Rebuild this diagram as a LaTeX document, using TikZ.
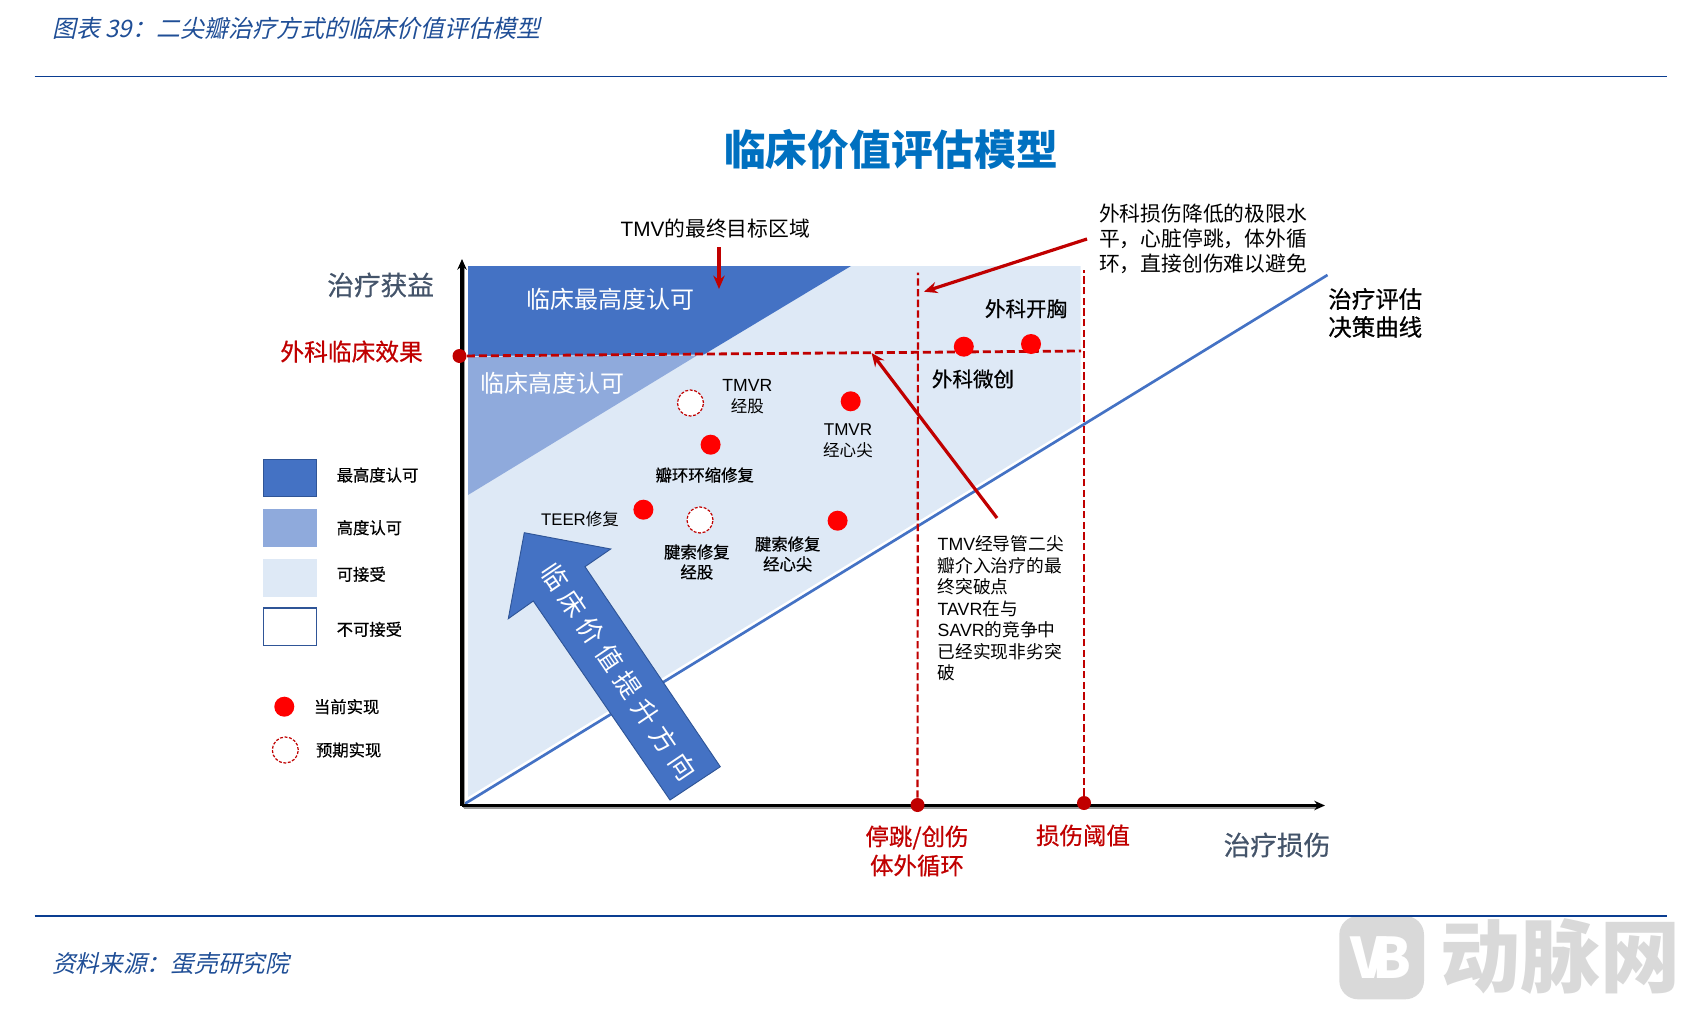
\documentclass[tikz,border=0pt]{standalone}
\usepackage{fontspec}
\usetikzlibrary{arrows.meta}
\setmainfont{Noto Sans CJK SC}
\newfontfamily\slantcjk[FakeSlant=0.22]{Noto Sans CJK SC}
\newfontfamily\heavycjk[FakeBold=0.6]{Noto Sans CJK SC}
\newfontfamily\lat{Liberation Sans}
\newcommand\fsz[2]{\fontsize{#1}{#2}\selectfont}
\definecolor{ruleblue}{HTML}{0A3D91}
\definecolor{capblue}{HTML}{1F4E96}
\definecolor{titleblue}{HTML}{0070C0}
\definecolor{dk}{HTML}{4472C4}
\definecolor{dkedge}{HTML}{2F5597}
\definecolor{md}{HTML}{8FAADC}
\definecolor{lt}{HTML}{DEE9F6}
\definecolor{redline}{HTML}{C00000}
\definecolor{slateax}{HTML}{44546A}
\definecolor{wm}{HTML}{D9D9D9}
\tikzset{
  lbl/.style={inner sep=0pt,outer sep=0pt,align=center},
  lbll/.style={inner sep=0pt,outer sep=0pt,align=left,anchor=west},
  ptdot/.style={circle,fill=red,draw=none,minimum size=15pt,inner sep=0pt},
  hollowdot/.style={circle,fill=white,draw=redline,dash pattern=on 2.2pt off 1.2pt,line width=0.9pt,minimum size=19.5pt,inner sep=0pt},
  keydot/.style={circle,fill=redline,draw=none,minimum size=10.5pt,inner sep=0pt},
  reddash/.style={draw=redline,line width=2.1pt,dash pattern=on 6pt off 3pt},
  reddashv/.style={draw=redline,line width=1.6pt,dash pattern=on 5.5pt off 2.5pt},
  redarrow/.style={draw=redline,line width=2.4pt,-{Stealth[length=10pt,width=8.5pt]}},
  axisline/.style={draw=black,line width=2.5pt,-{Stealth[length=8pt,width=7pt]}},
  axisshade/.style={draw=black!40,line width=2pt},
  legendbox/.style={minimum width=40pt,minimum height=28pt,inner sep=0pt,line width=1pt},
  legendtxt/.style={lbll,font=\heavycjk\fsz{12.25}{14}},
  ptlabel/.style={lbl,font=\fsz{12.4}{15.75}},
  ptlabelb/.style={lbl,font=\heavycjk\fsz{12.3}{15}},
  surg/.style={lbl,font=\heavycjk\fsz{15.4}{18}},
}
\begin{document}
\begin{tikzpicture}[x=0.75pt,y=-0.75pt]
\useasboundingbox (0,0) rectangle (1686,1010);
% rules and captions
\coordinate (ruleAl) at (34.5,76.5); \coordinate (ruleAr) at (1667,76.5);
\coordinate (ruleBl) at (34.5,915.7); \coordinate (ruleBr) at (1667,915.7);
\node[lbll,text=capblue,font=\slantcjk\fsz{18}{20}] (caption) at (52,28) {图表 39：二尖瓣治疗方式的临床价值评估模型};
\node[lbll,text=capblue,font=\slantcjk\fsz{17.8}{20}] (source) at (52,963.5) {资料来源：蛋壳研究院};
\node[lbl,text=titleblue,font=\bfseries\fsz{31.3}{34}] (title) at (891,149.5) {临床价值评估模型};
% watermark
\fill[wm,rounded corners=14pt] (1339.3,916) rectangle (1424,999.3);
\node[lbl,text=white,font=\bfseries\fsz{42}{42}] (wmvb) at (1381,958) {V\kern-10pt B};
\node[lbl,text=wm,font=\bfseries\fsz{60}{62}] (wmtxt) at (1560,957) {动脉网};
% regions
\fill[lt] (468,266) -- (1080.5,266) -- (1080.5,421.7) -- (468,797) -- cycle;
\fill[dk] (468,266) -- (851,266) -- (704,354.5) -- (468,356) -- cycle;
\fill[md] (468,357) -- (697,355.5) -- (468,495) -- cycle;
% curve and axes
\coordinate (origin) at (462,805.5);
\coordinate (yend) at (462,259);
\coordinate (xend) at (1325,805.5);
\coordinate (curveend) at (1327.5,275);
\draw[draw=dk,line width=2pt] (origin) -- (curveend);
\draw[axisshade] ([shift={(2,2)}]origin) -- ([shift={(2,8)}]yend);
\draw[axisshade] ([shift={(2,2.5)}]origin) -- ([shift={(-8,2.5)}]xend);
\draw[axisline] (origin) -- (yend);
\draw[axisline] (origin) -- (xend);
% big arrow
\filldraw[fill=dk,draw=dkedge,line width=0.7pt] (524.3,532.7) -- (610.7,549) -- (585,566.7) -- (720.3,766.7) -- (670,800) -- (533.3,601) -- (508.3,618.7) -- cycle;
\node[lbl,text=white,rotate=-56,font=\fsz{19.5}{20}] (bigarrowtxt) at (618.6,671.7) {临\kern5pt 床\kern5pt 价\kern5pt 值\kern5pt 提\kern5pt 升\kern5pt 方\kern5pt 向};
% dashed reference lines
\node[keydot] (kh) at (459.5,356) {};
\node[keydot] (kv1) at (917.5,805) {};
\node[keydot] (kv2) at (1084,803) {};
\coordinate (hend) at (1081,351);
\coordinate (v1top) at (918,272.7);
\coordinate (v2top) at (1084,270);
\draw[reddash] (kh) -- (hend);
\draw[reddashv] (kv1) -- (v1top);
\draw[reddashv] (kv2) -- (v2top);
% points
\node[ptdot] (p1) at (963.8,346.7) {};
\node[ptdot] (p2) at (1031,344) {};
\node[ptdot] (p3) at (850.7,401.3) {};
\node[hollowdot] (p4) at (690.5,403) {};
\node[ptdot] (p5) at (710.6,444.7) {};
\node[ptdot] (p6) at (643.4,509.7) {};
\node[hollowdot] (p7) at (700,520) {};
\node[ptdot] (p8) at (837.6,520.7) {};
% region labels
\node[lbl,text=white,font=\fsz{18}{20}] (rg1) at (610.6,299) {临床最高度认可};
\node[lbl,text=white,font=\fsz{18}{20}] (rg2) at (552.5,383) {临床高度认可};
% point labels
\node[ptlabel] (l1) at (747.4,396.5) {{\lat\fontsize{13.2}{15.75}\selectfont TMVR}\\经股};
\node[ptlabel] (l2) at (848,440.5) {{\lat\fontsize{12.8}{15.75}\selectfont TMVR}\\经心尖};
\node[ptlabelb] (l3) at (704.7,475) {瓣环环缩修复};
\node[ptlabel] (l4) at (580,519) {{\lat\fontsize{12.6}{15}\selectfont TEER}修复};
\node[ptlabelb] (l5) at (696.8,562) {腱索修复\\经股};
\node[ptlabelb] (l6) at (787.7,554) {腱索修复\\经心尖};
\node[surg] (l7) at (1026,308.7) {外科开胸};
\node[surg] (l8) at (973,379) {外科微创};
% annotations
\node[lbl,font=\fsz{15.6}{18}] (n1) at (715.4,228.5) {{\lat TMV}的最终目标区域};
\node[lbll,font=\fsz{15.6}{18.75}] (n2) at (1099,239) {外科损伤降低的极限水\\平，心脏停跳，体外循\\环，直接创伤难以避免};
\node[lbll,font=\fsz{13.3}{16.1}] (n3) at (937.7,608.5) {{\lat TMV}经导管二尖\\瓣介入治疗的最\\终突破点\\{\lat TAVR}在与\\{\lat SAVR}的竞争中\\已经实现非劣突\\破};
\node[lbll,font=\heavycjk\fsz{17.6}{21}] (n4) at (1328.3,313) {治疗评估\\决策曲线};
% red arrows
\coordinate (a1s) at (719,247); \coordinate (a1e) at (719,289);
\coordinate (a2s) at (1087,239); \coordinate (a2e) at (924,291.7);
\coordinate (a3s) at (997,518); \coordinate (a3e) at (871.6,353);
\draw[redarrow] (a1s) -- (a1e);
\draw[redarrow] (a2s) -- (a2e);
\draw[redarrow] (a3s) -- (a3e);
% axis labels
\node[lbl,text=slateax,font=\heavycjk\fsz{20}{22}] (ax1) at (380.6,285) {治疗获益};
\node[lbl,text=redline,font=\heavycjk\fsz{17.8}{20}] (ax2) at (351.6,351.6) {外科临床效果};
\node[lbl,text=redline,font=\heavycjk\fsz{17.6}{21.75}] (ax3) at (917,851) {停跳/创伤\\体外循环};
\node[lbl,text=redline,font=\heavycjk\fsz{17.6}{20}] (ax4) at (1083,835.5) {损伤阈值};
\node[lbl,text=slateax,font=\heavycjk\fsz{20}{22}] (ax5) at (1277,845) {治疗损伤};
% legend
\node[legendbox,fill=dk,draw=dkedge] (lg1) at (290,478) {};
\node[legendbox,fill=md] (lg2) at (290,528) {};
\node[legendbox,fill=lt] (lg3) at (290,578) {};
\node[legendbox,fill=white,draw=dkedge] (lg4) at (290,626.5) {};
\node[legendtxt] (lt1) at (336.7,475) {最高度认可};
\node[legendtxt] (lt2) at (336.7,527.7) {高度认可};
\node[legendtxt] (lt3) at (336.7,574.3) {可接受};
\node[legendtxt] (lt4) at (336.7,629.3) {不可接受};
\node[ptdot] (lg5) at (284.3,706.7) {};
\node[hollowdot] (lg6) at (285.3,750) {};
\node[legendtxt] (lt5) at (314,706.7) {当前实现};
\node[legendtxt] (lt6) at (316,750) {预期实现};
% rules
\draw[ruleblue,line width=1.3pt] (ruleAl) -- (ruleAr);
\draw[ruleblue,line width=1.3pt] (ruleBl) -- (ruleBr);
\end{tikzpicture}
\end{document}
